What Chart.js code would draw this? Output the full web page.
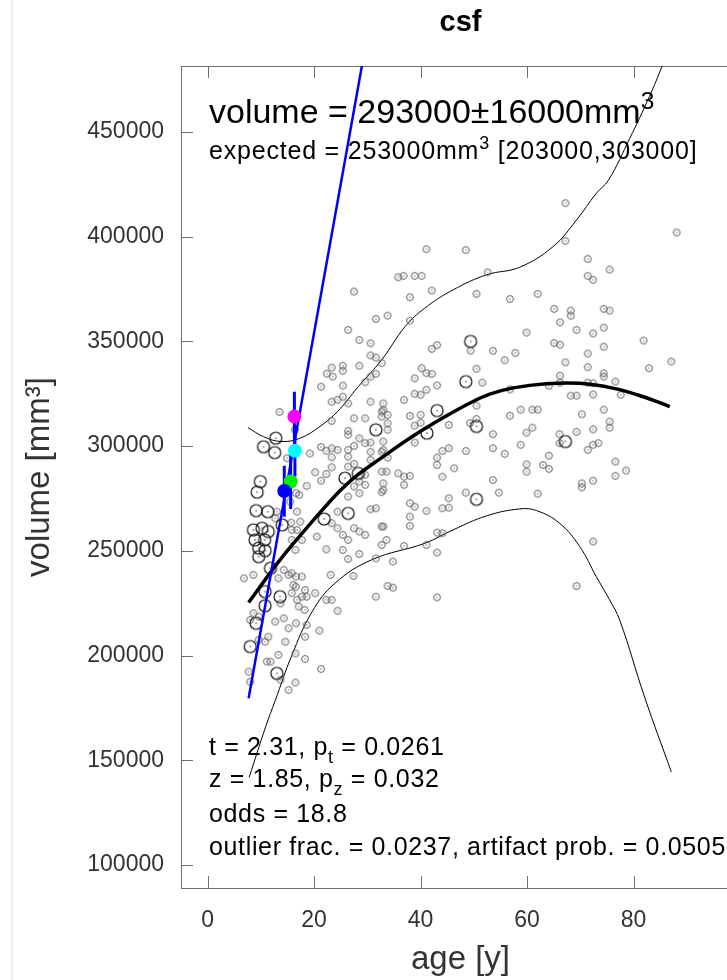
<!DOCTYPE html>
<html>
<head>
<meta charset="utf-8">
<title>csf</title>
<script src="https://cdn.jsdelivr.net/npm/chart.js@4.4.1/dist/chart.umd.min.js"></script>
<style>
body { margin: 0; background: #fff; overflow: hidden; }
#wrap { position: relative; width: 727px; height: 980px; overflow: hidden; }
#edge { position: absolute; left: 11px; top: 0; width: 2px; height: 980px; background: #e9eef5; }
canvas { position: absolute; left: 0; top: 0; }
</style>
</head>
<body>
<div id="wrap"><div id="edge"></div><canvas id="myChart" width="760" height="980"></canvas></div>
<script>
// axis ticks
var xTicks = [0, 20, 40, 60, 80];
var yTicks = [100000, 150000, 200000, 250000, 300000, 350000, 400000, 450000];

// reference cohort (small grey circles), age in years / volume in mm3
var grayAge = [67.2,88.1,41.1,48.5,67.2,71.4,75.5,71.4,72.4,52.6,40.2,42.1,50.5,56.8,62.0,65.1,68.2,68.2,74.4,75.5,
  66.2,69.3,72.4,74.4,59.9,81.9,65.1,66.2,74.4,71.4,49.4,42.1,43.1,53.6,55.8,57.8,67.2,71.4,74.4,74.4,
  76.6,82.9,87.1,50.5,41.1,42.1,40.2,51.6,43.1,41.1,66.2,66.2,64.1,56.8,71.4,72.4,72.4,68.2,69.3,77.6,
  50.5,56.8,58.8,61.0,62.0,70.3,74.4,75.5,75.5,72.4,69.3,66.1,61.0,59.9,53.6,45.3,49.3,50.5,45.3,44.1,
  43.1,43.1,48.5,53.6,55.8,58.8,64.1,63.0,64.1,59.9,59.9,71.4,72.4,73.4,66.1,76.6,78.6,76.6,72.4,70.3,
  70.3,46.3,44.1,53.6,54.7,62.0,48.5,45.3,41.1,44.1,45.3,43.1,44.1,41.1,43.1,72.4,69.3,43.1,36.8,35.8,
  38.9,38.0,38.0,33.8,38.9,40.0,38.9,36.9,33.0,33.0,33.8,38.0,40.0,33.8,33.8,38.9,40.0,33.0,38.9,33.0,
  33.6,35.8,36.9,38.0,36.9,33.0,33.0,38.0,38.9,38.0,38.0,33.0,33.6,36.9,27.5,31.6,26.4,28.5,30.6,30.6,
  31.6,32.7,23.3,25.4,22.4,23.5,25.4,28.5,30.6,31.6,29.6,21.3,25.4,25.4,24.4,23.3,26.4,30.6,32.7,13.5,
  23.3,27.5,29.6,32.7,26.4,26.4,28.5,30.6,29.6,21.3,22.3,23.3,24.4,23.3,26.4,27.5,26.4,19.2,30.6,32.7,
  33.8,30.6,16.4,14.9,20.2,22.3,23.3,21.3,18.6,17.2,16.8,15.7,26.4,27.5,29.6,28.5,29.6,27.5,26.4,28.5,
  24.4,23.3,24.4,25.4,26.4,27.5,28.5,29.6,25.4,26.4,28.5,32.7,32.7,30.6,31.6,32.7,32.7,31.6,34.8,33.8,
  34.8,31.6,22.3,20.5,23.1,27.4,24.4,23.3,22.3,21.0,18.3,21.3,18.6,17.7,18.2,17.1,18.6,16.6,15.2,14.6,
  18.3,13.3,11.8,11.1,7.7,15.2,16.5,13.7,8.0,15.8,16.6,17.7,16.1,16.6,15.8,16.8,14.3,15.2,15.8,16.5,
  17.7,16.8,15.8,8.6,6.8,8.6,9.6,9.6,10.8,11.4,8.0,13.0,12.7,16.6,15.5,17.4,13.3,14.3,13.7,12.7,
  20.2,18.3,16.5];
var grayVol = [416000,402000,394000,393600,398000,389400,384300,381300,379400,383000,381300,374300,372700,370300,372700,365500,364700,362300,365500,364700,
  359100,355500,353800,356600,354200,350400,349200,348400,347500,344200,345600,346400,348200,345500,341000,344500,340000,337700,334800,333200,
  330800,337200,340400,336900,334800,334500,337200,330300,329000,326900,333600,330300,328800,327100,330300,330000,324700,324100,324100,324500,
  319300,314500,317400,317400,317400,315200,317400,311700,308800,308000,306800,305700,308800,306400,305700,310100,311000,313000,299000,297700,
  294500,291000,297700,299000,296300,300600,295400,291000,289100,291300,287800,298200,300600,301400,301400,292600,288300,285800,283500,282200,
  280300,289400,285400,283800,277800,277300,277800,275100,269100,270300,270600,258700,258400,252800,249200,254400,233200,227800,381300,380600,
  381300,371100,359900,362300,332400,324500,325000,322100,320400,317300,314900,314400,314900,310900,307800,309800,311200,302200,301700,298200,
  287800,287000,285400,285800,281500,282200,279100,272700,271100,266300,261900,261600,255200,252300,373800,360700,355500,350700,349100,343300,
  342300,339600,337500,338400,334600,333200,336000,338400,333200,334500,330500,328400,328900,323600,322100,321200,320400,321200,316500,316300,
  312000,313300,313300,314100,307300,305400,303700,301700,301400,299600,297800,298900,298200,294700,298200,300100,295000,296500,297300,297300,
  294500,293400,307800,294200,287500,286700,289900,283500,281000,276700,268700,263500,290200,291500,286300,283100,281500,280700,275900,277500,
  268700,263200,260800,257600,255200,260800,259200,257600,250400,246100,248500,287800,278000,269800,270300,261600,252800,246400,244900,233200,
  232400,228100,250700,256800,238500,238000,221400,226600,226600,211900,198400,193600,228100,228100,221800,223400,214600,215400,213000,206600,
  209000,200300,197100,197100,192300,183600,187100,188400,187500,239300,237700,237700,233700,232900,229800,226600,240900,238500,255200,250400,
  255200,260000,260000,238500,236900,220200,218600,207500,206600,209000,217000,268700,265500,277500,273500,263900,236900,217800,224900,216200,
  229800,231300,201000];

// earlier scans (large black circles)
var blackAge = [43.1,41.2,50.5,67.2,50.5,49.4,48.5,31.6,12.8,10.5,12.6,9.9,9.3,9.1,11.3,8.6,10.2,11.4,8.9,10.7,
  9.6,10.8,9.6,14.0,11.8,10.8,13.6,10.8,9.1,8.0,13.0,25.8,28.3,26.4,21.9];
var blackVol = [317000,306200,309400,302200,274600,350000,330800,307800,303800,299700,296900,283100,278000,269200,268700,260000,260800,259200,255200,255200,
  251300,250100,247200,262400,241700,230500,228100,223800,215400,204300,191500,284700,287000,267900,265200];

// normative mean and bounds
var meanAge = [7.7, 13.6, 18.3, 22.1, 25.2, 28.3, 32.1, 38.6, 44.9, 49.3, 53.0, 57.4, 63.6, 69.9, 76.1, 81.7, 86.8];
var meanVol = [225300, 245700, 260000, 271100, 279500, 286500, 293400, 304800, 314500, 320600, 324800, 327800, 329800, 330000, 327700, 323700, 318900];
var upperAge = [7.6, 10.5, 13.8, 17.4, 21.1, 24.4, 28.3, 32.7, 37.1, 40.8, 46.1, 52.4, 58.6, 64.9, 69.3, 73.0, 75.3, 79.3, 83.0, 85.4, 87.0];
var upperVol = [308800, 304500, 302200, 303800, 309400, 316500, 328400, 341200, 357100, 365900, 374600, 381800, 385400, 395300, 408000, 420700, 427000, 447000, 467000, 481600, 492000];
var lowerAge = [7.8, 10.9, 12.7, 15.8, 19.6, 23.9, 30.8, 40.8, 46.1, 52.4, 58.6, 61.8, 66.1, 69.9, 73.0, 75.5, 77.4, 82.1, 87.1];
var lowerVol = [141800, 166000, 178500, 200000, 220800, 234500, 245700, 253600, 260000, 266700, 270000, 269200, 263200, 252000, 237700, 226600, 217000, 180000, 144400];

// subject trajectory
var fitAge = [7.7, 30.0];
var fitVol = [179600, 496000];
var subjAge = [16.3, 16.4, 15.6, 14.4];
var subjVol = [314100, 297800, 283100, 278600];
var subjLow = [302000, 285500, 270000, 266300];
var subjHigh = [326000, 310000, 297000, 290600];
var subjColors = ['#ff00ff', '#00ffff', '#00ee00', '#0000ff'];

// text in the plot
var headline = [['volume = 293000\u00b116000mm'], ['3', 'sup']];
var expected = [['expected = 253000mm'], ['3', 'sup'], [' [203000,303000]']];
var stats = [
  [['t = 2.31, p'], ['t', 'sub'], [' = 0.0261']],
  [['z = 1.85, p'], ['z', 'sub'], [' = 0.032']],
  [['odds = 18.8']],
  [['outlier frac. = 0.0237, artifact prob. = 0.0505']]
];

var FONT = '"Liberation Sans", Arial, Helvetica, sans-serif';

function pts(xs, ys) {
  return xs.map(function (x, i) { return { x: x, y: ys[i] }; });
}

// circle with a dot in the middle, used as point style
function marker(r, color, lw) {
  var c = document.createElement('canvas');
  var s = Math.ceil(r * 2 + lw + 2);
  c.width = s; c.height = s;
  var g = c.getContext('2d');
  g.strokeStyle = color; g.lineWidth = lw;
  g.beginPath(); g.arc(s / 2, s / 2, r, 0, Math.PI * 2); g.stroke();
  g.fillStyle = color;
  g.fillRect(s / 2 - 0.6, s / 2 - 0.6, 1.2, 1.2);
  return c;
}

var errData = [];
subjAge.forEach(function (a, i) {
  errData.push({ x: a, y: subjLow[i] }, { x: a, y: subjHigh[i] }, { x: a, y: null });
});

function richText(ctx, parts, x, y, size) {
  parts.forEach(function (p) {
    var s = p[1] ? size * 0.72 : size;
    var dy = p[1] === 'sup' ? -size * 0.42 : (p[1] === 'sub' ? size * 0.3 : 0);
    ctx.font = s + 'px ' + FONT;
    ctx.fillText(p[0], x, y + dy);
    x += ctx.measureText(p[0]).width;
  });
}

var decor = {
  id: 'decor',
  beforeDatasetsDraw: function (chart) {
    var ctx = chart.ctx, a = chart.chartArea;
    var xs = chart.scales.x, ys = chart.scales.y;
    ctx.save();
    // frame and inward ticks
    ctx.strokeStyle = '#707070';
    ctx.lineWidth = 1;
    ctx.strokeRect(Math.round(a.left) + 0.5, Math.round(a.top) + 0.5, Math.round(a.right - a.left), Math.round(a.bottom - a.top));
    ctx.beginPath();
    xTicks.forEach(function (v) {
      var px = Math.round(xs.getPixelForValue(v)) + 0.5;
      ctx.moveTo(px, a.bottom); ctx.lineTo(px, a.bottom - 12);
      ctx.moveTo(px, a.top); ctx.lineTo(px, a.top + 12);
    });
    yTicks.forEach(function (v) {
      var py = Math.round(ys.getPixelForValue(v)) + 0.5;
      ctx.moveTo(a.left, py); ctx.lineTo(a.left + 12, py);
      ctx.moveTo(a.right, py); ctx.lineTo(a.right - 12, py);
    });
    ctx.stroke();

    // annotations
    ctx.fillStyle = '#000';
    ctx.textAlign = 'left';
    ctx.textBaseline = 'alphabetic';
    var x0 = a.left + 28;
    richText(ctx, headline, x0, a.top + 57, 34);
    ctx.letterSpacing = '0.8px';
    richText(ctx, expected, x0, a.top + 93, 25);
    ctx.letterSpacing = '0.65px';
    var base = [a.bottom - 133, a.bottom - 101, a.bottom - 66, a.bottom - 33];
    stats.forEach(function (line, i) { richText(ctx, line, x0, base[i], 25); });
    ctx.letterSpacing = '0px';

    // title
    ctx.textAlign = 'center';
    ctx.font = 'bold 29px ' + FONT;
    ctx.fillText('csf', (a.left + a.right) / 2, 31);
    ctx.restore();
  }
};

var ctx = document.getElementById('myChart').getContext('2d');
var chart = new Chart(ctx, {
  type: 'scatter',
  data: {
    datasets: [
      { // subject points, on top
        data: pts(subjAge, subjVol), pointRadius: 7, pointBackgroundColor: subjColors,
        pointBorderWidth: 0, showLine: false, order: 0
      },
      { // error bars
        data: errData, showLine: true, spanGaps: false, borderColor: '#0000ff', borderWidth: 3,
        pointRadius: 0, order: 1
      },
      { // fitted subject slope
        data: pts(fitAge, fitVol), showLine: true, borderColor: '#0000ff', borderWidth: 2.5,
        pointRadius: 0, order: 2
      },
      {
        data: pts(meanAge, meanVol), showLine: true, borderColor: '#000', borderWidth: 3.5,
        pointRadius: 0, tension: 0.4, order: 3
      },
      {
        data: pts(blackAge, blackVol), pointStyle: marker(6, '#111', 1.2), showLine: false, order: 4
      },
      {
        data: pts(grayAge, grayVol), pointStyle: marker(3.4, '#5e5e5e', 1), showLine: false, order: 5
      },
      {
        data: pts(upperAge, upperVol), showLine: true, borderColor: '#000', borderWidth: 1,
        pointRadius: 0, tension: 0.4, order: 6
      },
      {
        data: pts(lowerAge, lowerVol), showLine: true, borderColor: '#000', borderWidth: 1,
        pointRadius: 0, tension: 0.4, order: 7
      }
    ]
  },
  options: {
    responsive: false,
    devicePixelRatio: 1,
    animation: false,
    events: [],
    layout: { padding: { top: 66, right: 20, left: 0, bottom: 0 } },
    plugins: { legend: { display: false }, tooltip: { enabled: false }, title: { display: false } },
    scales: {
      x: {
        type: 'linear', min: -5, max: 100,
        afterBuildTicks: function (s) { s.ticks = xTicks.map(function (v) { return { value: v }; }); },
        afterFit: function (s) { s.height = 92; },
        grid: { display: false, drawTicks: false },
        border: { display: false },
        ticks: { padding: 19, color: '#333', font: { family: FONT, size: 23 },
          callback: function (v) { return String(v); } },
        title: { display: true, text: 'age [y]', color: '#333', font: { family: FONT, size: 33 }, padding: { top: 0, bottom: 0 } }
      },
      y: {
        type: 'linear', min: 89000, max: 481500,
        afterBuildTicks: function (s) { s.ticks = yTicks.map(function (v) { return { value: v }; }); },
        afterFit: function (s) { s.width = 181; },
        grid: { display: false, drawTicks: false },
        border: { display: false },
        ticks: { padding: 17, color: '#333', font: { family: FONT, size: 23 },
          callback: function (v) { return String(v); } },
        title: { display: true, text: 'volume [mm\u00b3]', color: '#333', font: { family: FONT, size: 33 }, padding: { top: 20, bottom: 0 } }
      }
    }
  },
  plugins: [decor]
});
</script>
</body>
</html>
